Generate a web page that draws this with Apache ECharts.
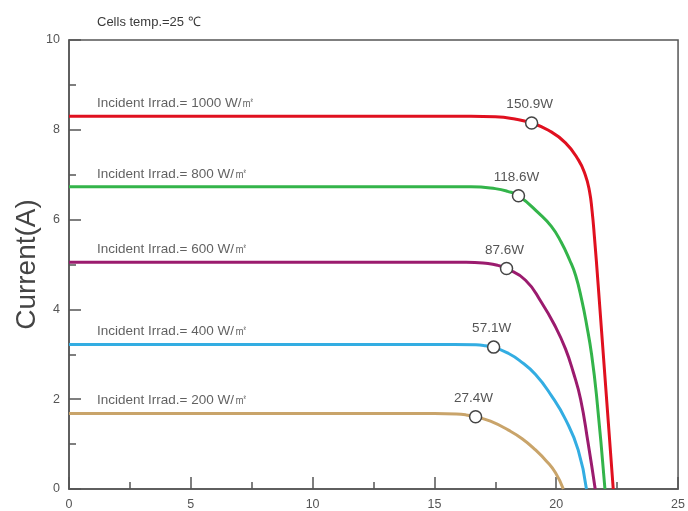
<!DOCTYPE html>
<html>
<head>
<meta charset="utf-8">
<script src="https://cdn.jsdelivr.net/npm/echarts@6/dist/echarts.min.js"></script>
<style>html,body{margin:0;padding:0;background:#fff;}#c{width:688px;height:511px;}</style>
</head>
<body>
<div id="c"></div>
<script>
// Tick labels
const xTicks = [0, 5, 10, 15, 20, 25];
const yTicks = [0, 2, 4, 6, 8, 10];

// Curve names (irradiance)
const irradLabels = [
  'Incident Irrad.= 1000 W/㎡',
  'Incident Irrad.= 800 W/㎡',
  'Incident Irrad.= 600 W/㎡',
  'Incident Irrad.= 400 W/㎡',
  'Incident Irrad.= 200 W/㎡'
];

// I-V curves (voltage V, current A)
const v1000 = [0, 16.5, 17.5, 18.3, 18.99, 19.68, 20.38, 20.91, 21.19, 21.36, 21.47, 21.57, 21.72, 22.34];
const i1000 = [8.3, 8.3, 8.29, 8.24, 8.15, 7.99, 7.71, 7.33, 7.0, 6.65, 6.2, 5.6, 4.55, 0];

const v800 = [0, 16.5, 17.5, 18.0, 18.45, 19.27, 19.8, 20.2, 20.55, 20.8, 21.05, 21.25, 21.45, 21.65, 22.0];
const i800 = [6.73, 6.73, 6.69, 6.63, 6.53, 6.15, 5.85, 5.5, 5.1, 4.75, 4.2, 3.65, 3.0, 2.1, 0];

const v600 = [0, 16.3, 17.2, 17.6, 17.96, 18.74, 19.39, 19.97, 20.38, 20.7, 21.0, 21.3, 21.6];
const i600 = [5.05, 5.05, 5.02, 4.98, 4.91, 4.65, 4.16, 3.61, 3.12, 2.6, 2.0, 1.05, 0];

const v400 = [0, 15.8, 16.7, 17.1, 17.43, 18.0, 18.5, 19.15, 19.8, 20.38, 20.9, 21.24];
const i400 = [3.22, 3.22, 3.21, 3.19, 3.16, 3.03, 2.86, 2.55, 2.08, 1.55, 0.87, 0];

const v200 = [0, 15.0, 15.9, 16.3, 16.69, 17.3, 18.04, 18.6, 19.15, 19.6, 19.97, 20.29];
const i200 = [1.68, 1.68, 1.67, 1.65, 1.61, 1.51, 1.31, 1.12, 0.87, 0.62, 0.36, 0];

// Maximum power points
const mppV = [18.99, 18.45, 17.96, 17.43, 16.69];
const mppI = [8.15, 6.53, 4.91, 3.16, 1.61];
const mppLabels = ['150.9W', '118.6W', '87.6W', '57.1W', '27.4W'];

const colors = ['#e0101f', '#33b44a', '#9b1b6e', '#33ade2', '#c9a46a'];
const curves = [[v1000, i1000], [v800, i800], [v600, i600], [v400, i400], [v200, i200]];

const FONT = 'Liberation Sans, Arial, sans-serif';
const zip = (a, b) => a.map((x, k) => [x, b[k]]);

const series = [];
curves.forEach((c, k) => {
  series.push({
    type: 'line',
    data: zip(c[0], c[1]),
    smooth: 0.5,
    symbol: 'none',
    lineStyle: { color: colors[k], width: 3 },
    z: 2,
    silent: true
  });
});
// irradiance labels
series.push({
  type: 'scatter',
  symbolSize: 0,
  silent: true,
  data: curves.map((c, k) => ({
    value: [c[0][0], c[1][0]],
    label: {
      show: true, position: 'right', offset: [23, -13],
      formatter: irradLabels[k], color: '#3a3a3a', fontSize: 13.5,
      fontFamily: FONT
    }
  }))
});
// MPP markers
series.push({
  type: 'scatter',
  symbol: 'circle',
  symbolSize: 12,
  z: 5,
  silent: true,
  itemStyle: { color: '#fff', borderColor: '#444', borderWidth: 1.5, opacity: 1 },
  data: mppV.map((x, k) => ({
    value: [x, mppI[k]],
    label: {
      show: true, position: 'top', distance: 5, offset: [-2, 0],
      formatter: mppLabels[k], color: '#555', fontSize: 13.5,
      fontFamily: FONT
    }
  }))
});

const chart = echarts.init(document.getElementById('c'), null, { renderer: 'canvas' });
chart.setOption({
  backgroundColor: '#fff',
  animation: false,
  title: {
    text: 'Cells temp.=25 ℃',
    left: 92, top: 11,
    textStyle: { fontSize: 13, fontWeight: 'normal', color: '#3a3a3a', fontFamily: FONT }
  },
  grid: { left: 69, right: 8, top: 40, bottom: 22, show: true, borderColor: '#555', borderWidth: 1.5, backgroundColor: 'transparent' },
  xAxis: {
    type: 'value', min: xTicks[0], max: xTicks[xTicks.length - 1], interval: 5,
    axisLine: { lineStyle: { color: '#555', width: 1.5 } },
    axisTick: { inside: true, length: 12, lineStyle: { color: '#555', width: 1.5 } },
    minorTick: { show: true, splitNumber: 2, length: 7, lineStyle: { color: '#555', width: 1.5 } },
    splitLine: { show: false },
    axisLabel: { color: '#555', fontSize: 12.5, margin: 9, fontFamily: FONT }
  },
  yAxis: {
    type: 'value', min: yTicks[0], max: yTicks[yTicks.length - 1], interval: 2,
    name: 'Current(A)', nameLocation: 'middle', nameGap: 28, nameRotate: 90,
    nameMoveOverlap: false,
    nameTextStyle: { fontSize: 28, color: '#444', fontFamily: FONT },
    axisLine: { lineStyle: { color: '#555', width: 1.5 } },
    axisTick: { inside: true, length: 12, lineStyle: { color: '#555', width: 1.5 } },
    minorTick: { show: true, splitNumber: 2, length: 7, lineStyle: { color: '#555', width: 1.5 } },
    splitLine: { show: false },
    axisLabel: { color: '#555', fontSize: 12.5, margin: 9, fontFamily: FONT }
  },
  series: series
});
</script>
</body>
</html>
